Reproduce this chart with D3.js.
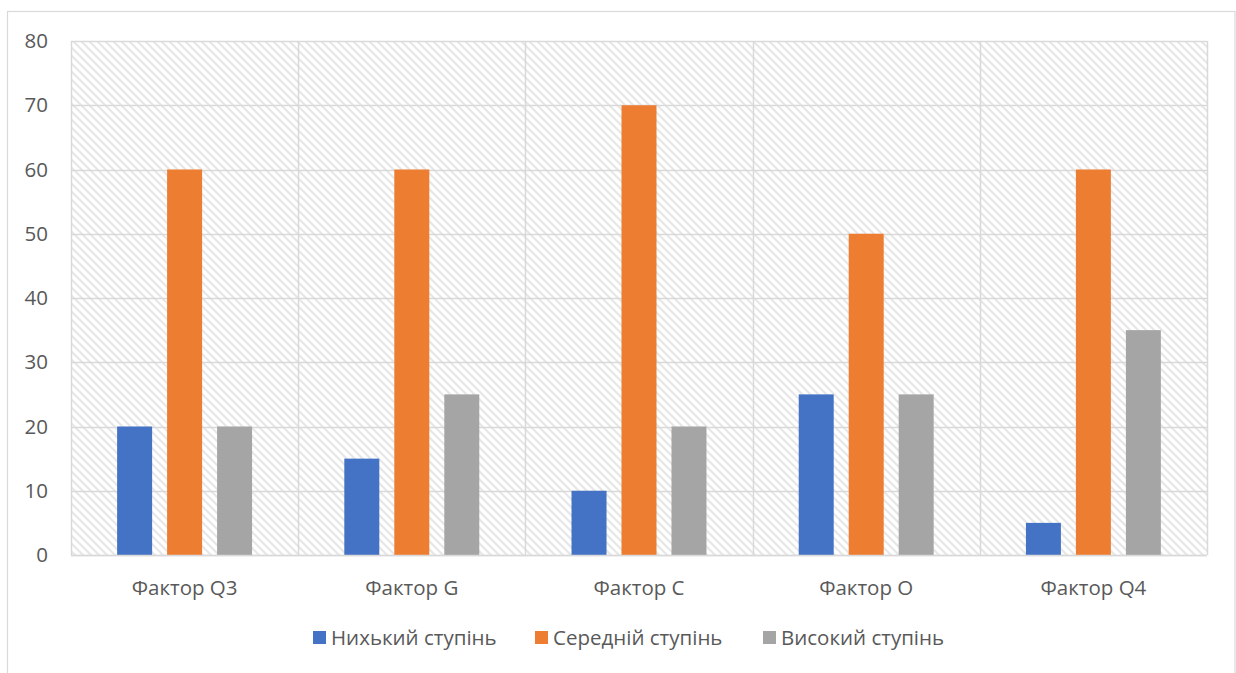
<!DOCTYPE html>
<html>
<head>
<meta charset="utf-8">
<script src="https://cdn.jsdelivr.net/npm/d3@7"></script>
<style>
  html, body { margin: 0; padding: 0; background: #fff; }
  svg { display: block; }
  text { font-family: "Open Sans", "Noto Sans", sans-serif; fill: #595959; }
</style>
</head>
<body>
<svg id="chart" width="1236" height="673"></svg>
<script>
const categories = ["Фактор Q3", "Фактор G", "Фактор C", "Фактор O", "Фактор Q4"];
const seriesNames = ["Нихький ступінь", "Середній ступінь", "Високий ступінь"];
const lowValues = [20, 15, 10, 25, 5];
const midValues = [60, 60, 70, 50, 60];
const highValues = [20, 25, 20, 25, 35];
const seriesColors = ["#4472c4", "#ed7d31", "#a5a5a5"];
const yTicks = [0, 10, 20, 30, 40, 50, 60, 70, 80];

const seriesValues = [lowValues, midValues, highValues];
const FS = 20.5;

const svg = d3.select("#chart");
const margin = { left: 71, top: 41, right: 1207, bottom: 555 };

// outer chart border
svg.append("rect")
  .attr("x", 7.5).attr("y", 11.5)
  .attr("width", 1235 - 7.5).attr("height", 700)
  .attr("fill", "#fff").attr("stroke", "#d9d9d9").attr("stroke-width", 1.2);

// hatch pattern
const defs = svg.append("defs");
const pat = defs.append("pattern")
  .attr("id", "hatch").attr("patternUnits", "userSpaceOnUse")
  .attr("width", 8).attr("height", 8);
pat.append("rect").attr("width", 8).attr("height", 8).attr("fill", "#fff");
pat.append("path")
  .attr("d", "M-2,-2 L10,10 M-2,6 L2,10 M6,-2 L10,2")
  .attr("stroke", "#e6e6e6").attr("stroke-width", 2);

const x0 = d3.scaleBand().domain(categories).range([margin.left, margin.right]).padding(0);
const bw = x0.bandwidth();
const groupW = bw * 0.594;
const x1 = d3.scaleBand().domain(seriesNames)
  .range([(bw - groupW) / 2, (bw + groupW) / 2]).paddingInner(0.3).paddingOuter(0);
const y = d3.scaleLinear().domain([0, 80]).range([margin.bottom, margin.top]);

// plot background
svg.append("rect")
  .attr("x", margin.left).attr("y", margin.top)
  .attr("width", margin.right - margin.left).attr("height", margin.bottom - margin.top)
  .attr("fill", "url(#hatch)");

// horizontal gridlines
svg.append("g").selectAll("line").data(yTicks).join("line")
  .attr("x1", margin.left).attr("x2", margin.right)
  .attr("y1", d => Math.round(y(d)) + 0.5).attr("y2", d => Math.round(y(d)) + 0.5)
  .attr("stroke", "#d9d9d9").attr("stroke-width", 1.5);

// vertical gridlines at category boundaries
const bounds = categories.map(c => x0(c)).concat([margin.right]);
svg.append("g").selectAll("line").data(bounds).join("line")
  .attr("x1", d => Math.round(d) + 0.5).attr("x2", d => Math.round(d) + 0.5)
  .attr("y1", margin.top).attr("y2", margin.bottom)
  .attr("stroke", "#d9d9d9").attr("stroke-width", 1.5);

// bars
const groups = svg.append("g").selectAll("g").data(categories).join("g")
  .attr("transform", c => `translate(${x0(c)},0)`);
groups.selectAll("rect")
  .data((c, i) => seriesNames.map((s, j) => ({ s, j, v: seriesValues[j][i] })))
  .join("rect")
  .attr("x", d => x1(d.s))
  .attr("width", x1.bandwidth())
  .attr("y", d => y(d.v))
  .attr("height", d => y(0) - y(d.v))
  .attr("fill", d => seriesColors[d.j]);

// bottom axis line redraw
svg.append("line")
  .attr("x1", margin.left).attr("x2", margin.right)
  .attr("y1", Math.round(y(0)) + 0.5).attr("y2", Math.round(y(0)) + 0.5)
  .attr("stroke", "#d9d9d9").attr("stroke-width", 1.5);

// y axis labels
const yAxis = d3.axisLeft(y).tickValues(yTicks).tickSize(0).tickPadding(0);
const yg = svg.append("g").attr("transform", `translate(48,0)`).call(yAxis);
yg.select(".domain").remove();
yg.attr("font-size", null).attr("font-family", null);
yg.selectAll("text").style("font-size", FS + "px").style("fill", "#595959")
  .style("font-family", '"Open Sans", sans-serif');

// x axis labels
const xAxis = d3.axisBottom(x0).tickSize(0).tickPadding(0);
const xg = svg.append("g").attr("transform", `translate(0,580)`).call(xAxis);
xg.select(".domain").remove();
xg.attr("font-size", null).attr("font-family", null);
xg.selectAll("text").style("font-size", FS + "px").style("fill", "#595959")
  .style("font-family", '"Open Sans", sans-serif');

// legend
const legendX = [313, 535, 763];
const lg = svg.append("g").selectAll("g").data(seriesNames).join("g")
  .attr("transform", (d, i) => `translate(${legendX[i]},631)`);
lg.append("rect").attr("width", 13).attr("height", 13).attr("fill", (d, i) => seriesColors[i]);
lg.append("text").attr("x", 18).attr("y", 14).style("font-size", FS + "px").text(d => d);
</script>
</body>
</html>
